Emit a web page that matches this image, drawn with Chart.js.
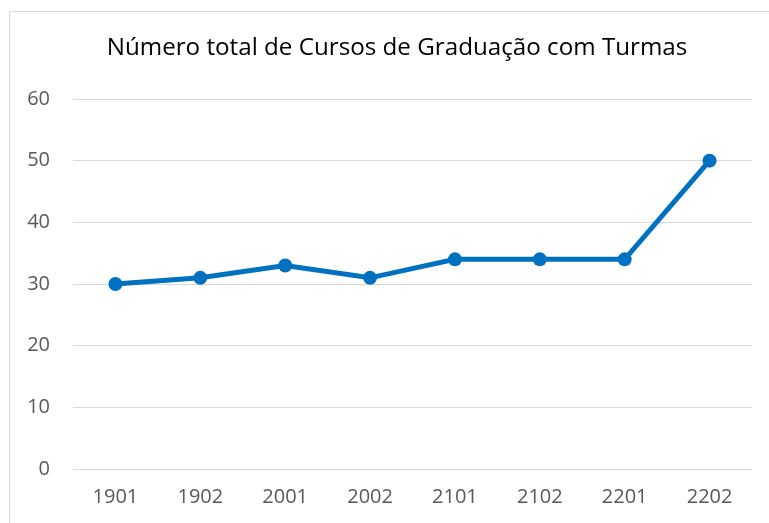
<!DOCTYPE html>
<html>
<head>
<meta charset="utf-8">
<script src="https://cdn.jsdelivr.net/npm/chart.js@4.4.1/dist/chart.umd.min.js"></script>
<style>
  html, body { margin: 0; padding: 0; background: #fff; width: 769px; height: 523px; overflow: hidden; }
  #frame { position: absolute; left: 9px; top: 11px; width: 800px; height: 600px; border-left: 1px solid #d9d9d9; border-top: 1px solid #d9d9d9; box-sizing: border-box; }
  #wrap { position: absolute; left: 0; top: 0; width: 769px; height: 523px; }
</style>
</head>
<body>
<div id="frame"></div>
<div id="wrap"><canvas id="c" width="769" height="523"></canvas></div>
<script>
const titleText = "Número total de Cursos de Graduação com Turmas";
const categories = ["1901", "1902", "2001", "2002", "2101", "2102", "2201", "2202"];
const courseCounts = [30, 31, 33, 31, 34, 34, 34, 50];
const yTicks = [0, 10, 20, 30, 40, 50, 60];

const FONT = "'Open Sans', sans-serif";
// fit title width to reference (~581px)
const mctx = document.createElement('canvas').getContext('2d');
mctx.font = "20px " + FONT;
let titleSize = Math.round(20 * 581 / mctx.measureText(titleText).width * 10) / 10;
const titleLine = titleSize * 1.2;
const titleTop = 48 - titleLine / 2;

const shiftTitle = {
  id: 'shiftTitle',
  afterLayout(chart) {
    if (chart.titleBlock) { chart.titleBlock.left = 42; chart.titleBlock.right = 752; }
  }
};

new Chart(document.getElementById('c'), {
  type: 'line',
  data: {
    labels: categories,
    datasets: [{
      data: courseCounts,
      borderColor: '#0070c0',
      backgroundColor: '#0070c0',
      borderWidth: 5,
      pointRadius: 7,
      pointHoverRadius: 7,
      pointBackgroundColor: '#0070c0',
      pointBorderWidth: 0,
      tension: 0,
      fill: false
    }]
  },
  plugins: [shiftTitle],
  options: {
    responsive: false,
    animation: false,
    devicePixelRatio: 1,
    layout: { padding: { left: 0, right: 17, top: 0, bottom: 0 } },
    plugins: {
      legend: { display: false },
      tooltip: { enabled: false },
      title: {
        display: true,
        text: titleText,
        color: '#000000',
        font: { family: FONT, size: titleSize, weight: 'normal', lineHeight: 1.2 },
        padding: { top: titleTop, bottom: 99 - titleTop - titleLine }
      }
    },
    scales: {
      x: {
        offset: true,
        grid: { display: false, drawTicks: false, offset: true },
        border: { display: false },
        ticks: { color: '#595959', font: { family: FONT, size: 20 }, padding: 16, maxRotation: 0 },
        afterFit: (s) => { s.height = 54; }
      },
      y: {
        min: 0,
        max: 60,
        afterBuildTicks: (s) => { s.ticks = yTicks.map(v => ({ value: v })); },
        grid: { color: '#d9d9d9', lineWidth: 1, drawTicks: false },
        border: { display: false },
        ticks: { color: '#595959', font: { family: FONT, size: 20 }, padding: 23 },
        afterFit: (s) => { s.width = 73; }
      }
    }
  }
});
</script>
</body>
</html>
